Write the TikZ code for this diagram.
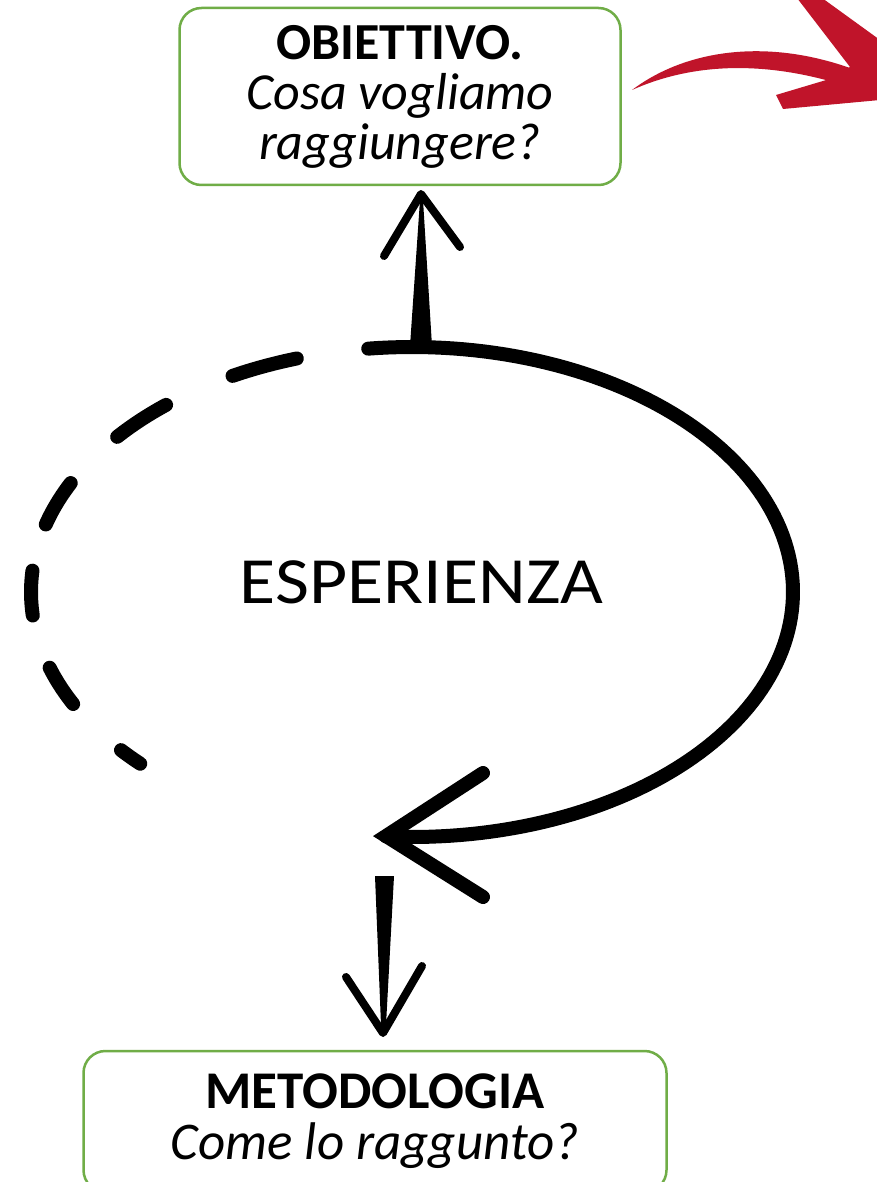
\documentclass[tikz,border=0pt]{standalone}
\usepackage{fontspec}
\setmainfont{Carlito}
\usetikzlibrary{calc}
\definecolor{boxgreen}{RGB}{112,173,71}
\definecolor{brushred}{RGB}{192,20,42}
\begin{document}
\begin{tikzpicture}[x=1pt,y=-1pt]
\tikzset{goal/.style = {draw=boxgreen, line width=2.5pt, rounded corners=22pt, align=center, inner sep=0pt},
  loopline/.style = {line width=14pt, line cap=round, line join=round}}
\def\cx{412}
\def\cy{592}
\def\rx{381}
\def\ry{245}
\useasboundingbox[fill=white] (0,0) rectangle (876,1182);
% the two boxes
\node[goal, minimum width=441pt, minimum height=177pt, font=\fontsize{52}{50}\selectfont] (obj) at (400,96.5) {\textbf{OBIETTIVO.}\\\textit{Cosa vogliamo}\\\textit{raggiungere?}};
\node[goal, minimum width=583pt, minimum height=141pt, font=\fontsize{53}{51}\selectfont] (met) at (375,1121.5) {\textbf{METODOLOGIA}\\\textit{Come lo raggunto?}};
\node[font=\fontsize{66}{70}\selectfont, anchor=base] (esp) at (421.5,603) {\scalebox{1.12}[1]{ESPERIENZA}};
% loop around the experience
\draw[loopline] plot[domain=-96.6:93.9, samples=120] ({\cx+\rx*cos(\x)},{\cy+\ry*sin(\x)});
\foreach \s/\e in {252.4/241.9, 229.8/219.3, 206.4/196, 185/174.5, 162/152.8, 139.8/135.5}
  \draw[loopline] plot[domain=\s:\e, samples=20] ({\cx+\rx*cos(\x)},{\cy+\ry*sin(\x)});
\coordinate (vtx) at (386,836);
\coordinate (armup) at (483,773);
\coordinate (armdown) at (483,897);
\draw[line width=14pt, line cap=round, line join=miter] (armup) -- (vtx) -- (armdown);
% up and down arrows
\coordinate (upfoot) at (421,346);
\coordinate (uptip) at (421,194);
\fill ($(upfoot)+(-11,0)$) -- ($(upfoot)+(11,0)$) -- ($(uptip)+(2,6)$) -- ($(uptip)+(-1,6)$) -- cycle;
\draw[line width=8pt, line cap=round, line join=round] (384,256) -- (uptip) -- (460,247);
\coordinate (dnfoot) at (384,876);
\coordinate (dntip) at (383,1033);
\fill ($(dnfoot)+(-9,0)$) -- ($(dnfoot)+(10,0)$) -- ($(dntip)+(3,-8)$) -- ($(dntip)+(-2,-8)$) -- cycle;
\draw[line width=8pt, line cap=round, line join=round] (346,977) -- (dntip) -- (422,966);
% red arrow
\fill[brushred] (632,90) .. controls (685,50) and (765,38) .. (850,68) -- (840,84) .. controls (760,60) and (690,64) .. cycle;
\fill[brushred] (797,-2) -- (822,-2) -- (880,40) -- (880,100) -- (783,109) -- (776,95) -- (833,78) -- (850,67) -- cycle;
\end{tikzpicture}
\end{document}
